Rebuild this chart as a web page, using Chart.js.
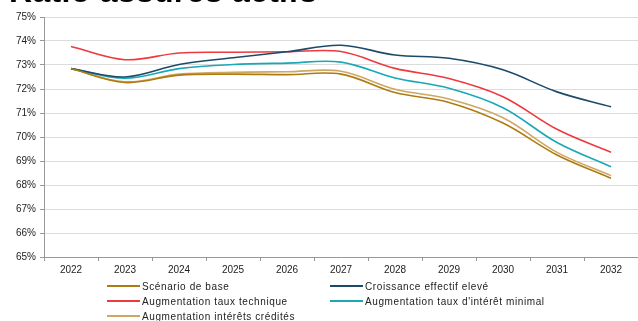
<!DOCTYPE html>
<html>
<head>
<meta charset="utf-8">
<script src="https://cdn.jsdelivr.net/npm/chart.js@4.4.1/dist/chart.umd.min.js"></script>
<style>
  body { margin: 0; background: #fff; font-family: "Liberation Sans", Arial, sans-serif; }
  #wrap { position: relative; width: 638px; height: 321px; overflow: hidden; }
  #title { position: absolute; left: 9px; top: -27px; font-size: 32px; line-height: 36px; font-weight: bold; color: #000; white-space: nowrap; letter-spacing: 0.3px; }
  #legend { position: absolute; left: 0; top: 281px; width: 638px; }
  .item { position: absolute; font-size: 10px; letter-spacing: 0.6px; color: #222; white-space: nowrap; }
  .item span.line { display: inline-block; width: 33px; height: 2px; vertical-align: middle; margin-right: 2px; position: relative; top: -1px; }
</style>
</head>
<body>
<div id="wrap">
  <div id="title">Ratio assurés actifs</div>
  <canvas id="chart" width="638" height="321"></canvas>
  <div id="legend"></div>
</div>
<script>
const years = ["2022", "2023", "2024", "2025", "2026", "2027", "2028", "2029", "2030", "2031", "2032"]

const baseScenario = [72.85, 72.27, 72.58, 72.62, 72.60, 72.62, 71.85, 71.44, 70.58, 69.25, 68.28]
const highHeadcount = [72.85, 72.50, 73.02, 73.30, 73.55, 73.82, 73.42, 73.28, 72.80, 71.88, 71.26]
const techRateUp = [73.77, 73.22, 73.50, 73.53, 73.55, 73.56, 72.86, 72.44, 71.68, 70.32, 69.36]
const minRateUp = [72.85, 72.45, 72.85, 73.02, 73.08, 73.12, 72.46, 72.03, 71.22, 69.77, 68.76]
const creditedUp = [72.85, 72.30, 72.62, 72.70, 72.72, 72.74, 71.99, 71.58, 70.80, 69.36, 68.39]

const seriesNames = ["Scénario de base", "Croissance effectif elevé", "Augmentation taux technique", "Augmentation taux d'intérêt minimal", "Augmentation intérêts crédités"]
const seriesColors = ["#AE7A12", "#1C4A6A", "#EE3A3E", "#1BA7B6", "#CFA762"]
const seriesData = [baseScenario, highHeadcount, techRateUp, minRateUp, creditedUp]

const datasets = seriesData.map((d, i) => ({
  label: seriesNames[i],
  data: d,
  borderColor: seriesColors[i],
  backgroundColor: seriesColors[i],
  borderWidth: 1.6,
  pointRadius: 0,
  tension: 0.35,
  fill: false
}))

const chart = new Chart(document.getElementById("chart"), {
  type: "line",
  data: { labels: years, datasets: datasets },
  options: {
    responsive: false,
    animation: false,
    layout: { padding: { top: 17, left: 0, right: 0, bottom: 44 } },
    plugins: { legend: { display: false }, tooltip: { enabled: false } },
    scales: {
      x: {
        offset: true,
        grid: { display: true, drawOnChartArea: false, offset: true, color: "#999", tickLength: 4 },
        border: { color: "#999" },
        ticks: { color: "#222", font: { family: "Liberation Sans, Arial", size: 10 }, padding: 3, maxRotation: 0 },
        afterFit: function (scale) { scale.height = 20 }
      },
      y: {
        min: 65,
        max: 75,
        ticks: { stepSize: 1, color: "#222", font: { family: "Liberation Sans, Arial", size: 10 }, padding: 4, callback: v => v + "%" },
        grid: { color: "#DCDCDC", lineWidth: 1, tickLength: 4, tickColor: "#999" },
        border: { color: "#999" },
        afterFit: function (scale) { scale.width = 44 }
      }
    }
  }
})

// legend in two columns like the original
const legend = document.getElementById("legend")
const legendPos = [[107, 0], [330, 0], [107, 15], [330, 15], [107, 30]]
seriesNames.forEach(function (name, i) {
  const item = document.createElement("div")
  item.classList.add("item")
  item.style.left = legendPos[i][0] + "px"
  item.style.top = legendPos[i][1] + "px"
  const line = document.createElement("span")
  line.classList.add("line")
  line.style.background = seriesColors[i]
  item.append(line)
  item.append(document.createTextNode(name))
  legend.append(item)
})
</script>
</body>
</html>
